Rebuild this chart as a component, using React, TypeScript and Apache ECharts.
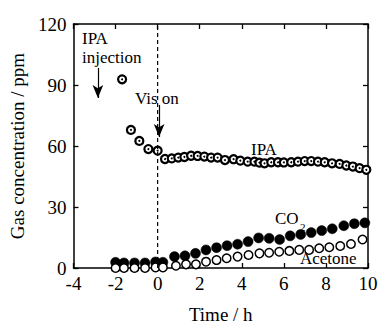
import React, { useEffect, useRef } from "react";
import * as echarts from "echarts";

const xTicks = { min: -4, max: 10, interval: 2 };
const yTicks = { min: 0, max: 120, interval: 30 };

const ipaX = [-1.69, -1.27, -0.87, -0.44, 0, 0.35, 0.67, 0.98, 1.27, 1.59, 1.9, 2.22, 2.54, 2.85, 3.2, 3.61, 3.93, 4.28, 4.6, 4.84, 5.08, 5.4, 5.72, 6.0, 6.35, 6.67, 6.99, 7.3, 7.62, 7.94, 8.29, 8.65, 8.97, 9.28, 9.6, 9.92];
const ipaY = [92.8, 67.9, 62.5, 58.5, 57.7, 53.6, 53.9, 54.3, 54.6, 55.2, 55.1, 54.8, 54.3, 54.3, 53.1, 53.5, 52.8, 52.3, 52.3, 51.8, 51.5, 52.0, 52.0, 51.9, 52.0, 52.3, 52.6, 52.6, 52.3, 52.0, 51.5, 51.2, 50.4, 49.9, 49.1, 48.3];

const co2X = [-2.0, -1.6, -1.1, -0.6, -0.1, 0.25, 0.8, 1.3, 1.8, 2.3, 2.8, 3.3, 3.8, 4.3, 4.8, 5.3, 5.8, 6.3, 6.8, 7.3, 7.8, 8.3, 8.85, 9.35, 9.85];
const co2Y = [2.8, 2.5, 2.5, 2.5, 3.0, 2.8, 5.6, 6.0, 7.2, 8.9, 10.0, 11.0, 11.7, 13.0, 14.8, 14.6, 14.0, 15.8, 16.5, 17.4, 18.4, 19.3, 20.8, 21.8, 22.2];

const acetoneX = [-2.0, -1.6, -1.1, -0.6, -0.1, 0.25, 0.87, 1.35, 1.82, 2.3, 2.8, 3.28, 3.8, 4.32, 4.84, 5.3, 5.78, 6.26, 6.73, 7.2, 7.68, 8.16, 8.68, 9.19, 9.74];
const acetoneY = [0, 0, 0, 0, 0.3, 0.3, 1.1, 1.8, 1.8, 3.1, 3.9, 4.8, 5.6, 6.4, 7.2, 7.5, 8.0, 8.4, 8.9, 8.9, 9.7, 10.2, 10.8, 11.8, 14.0];

// Vis-on time marker (dashed line) and annotation arrows, in data units
const visOnLine = [[0, 0], [0, 120]];
const injectionArrow = [[-2.84, 98.4], [-2.84, 83.6]];
const visOnArrow = [[0.07, 80.2], [0.07, 64.4]];

const zip = (xs: number[], ys: number[]) => xs.map((x, i) => [x, ys[i]]);

const FONT = "'Liberation Serif', 'DejaVu Serif', serif";

export default function App() {
  const ref = useRef<HTMLDivElement>(null);
  useEffect(() => {
    if (!ref.current) return;
    const chart = echarts.init(ref.current, null, { renderer: "svg" });
    const axisLine = { show: true, onZero: false, lineStyle: { color: "#000", width: 1.5 } };
    const tick = { show: true, inside: true, length: 5, lineStyle: { color: "#000", width: 1.3 } };
    const arrowPair = (pts: number[][]) => [
      { coord: pts[0], symbol: "none" },
      { coord: pts[1], symbol: "arrow", symbolSize: [8, 13] },
    ];
    chart.setOption({
      animation: false,
      backgroundColor: "#fff",
      grid: { left: 73.5, right: 17, top: 24, bottom: 67, outerBoundsMode: "none", containLabel: false },
      xAxis: [
        {
          type: "value", ...xTicks,
          name: "Time / h", nameLocation: "middle", nameGap: 37,
          nameTextStyle: { fontFamily: FONT, fontSize: 19, color: "#000" },
          axisLine, axisTick: tick, splitLine: { show: false },
          axisLabel: { fontFamily: FONT, fontSize: 19, color: "#000", margin: 6 },
        },
        {
          type: "value", ...xTicks, position: "top",
          axisLine, axisTick: tick, splitLine: { show: false }, axisLabel: { show: false },
        },
      ],
      yAxis: [
        {
          type: "value", ...yTicks,
          name: "Gas concentration / ppm", nameLocation: "middle", nameGap: 46, nameRotate: 90,
          nameTextStyle: { fontFamily: FONT, fontSize: 19, color: "#000" },
          axisLine, axisTick: tick, splitLine: { show: false },
          axisLabel: { fontFamily: FONT, fontSize: 19, color: "#000", margin: 7 },
        },
        {
          type: "value", ...yTicks, position: "right",
          axisLine, axisTick: tick, splitLine: { show: false }, axisLabel: { show: false },
        },
      ],
      series: [
        {
          type: "line", name: "visOn", data: visOnLine, symbol: "none", silent: true,
          lineStyle: { type: [4, 3], color: "#000", width: 1.2 },
          markLine: {
            silent: true, animation: false,
            label: { show: false },
            lineStyle: { type: "solid", color: "#000", width: 1.2 },
            itemStyle: { color: "#000" },
            data: [arrowPair(injectionArrow), arrowPair(visOnArrow)],
          },
        },
        {
          type: "scatter", name: "CO2", data: zip(co2X, co2Y), symbol: "circle", symbolSize: 10,
          itemStyle: { color: "#000", borderColor: "#000", borderWidth: 0.5, opacity: 1 },
        },
        {
          type: "scatter", name: "Acetone", data: zip(acetoneX, acetoneY), symbol: "circle", symbolSize: 8.5,
          itemStyle: { color: "#fff", borderColor: "#000", borderWidth: 1.5, opacity: 1 },
        },
        {
          type: "scatter", name: "IPA", data: zip(ipaX, ipaY), symbol: "circle", symbolSize: 8,
          itemStyle: { color: "#fff", borderColor: "#000", borderWidth: 2.2, opacity: 1 },
        },
        {
          type: "scatter", name: "IPA-core", data: zip(ipaX, ipaY), symbol: "circle", symbolSize: 2,
          itemStyle: { color: "#000", opacity: 1 }, silent: true,
        },
      ],
      graphic: [
        { type: "text", left: 82, top: 30, z: 100, style: { text: "IPA", font: `17px ${FONT}`, lineHeight: 17, fill: "#000" } },
        { type: "text", left: 82, top: 49, z: 100, style: { text: "injection", font: `17px ${FONT}`, lineHeight: 17, fill: "#000" } },
        { type: "text", left: 135, top: 90, z: 100, style: { text: "Vis on", font: `17px ${FONT}`, fill: "#000" } },
        { type: "text", left: 251, top: 141, z: 100, style: { text: "IPA", font: `17px ${FONT}`, fill: "#000" } },
        { type: "text", left: 275, top: 210, z: 100, style: { text: "CO", font: `17px ${FONT}`, fill: "#000" } },
        { type: "text", left: 300, top: 221, z: 100, style: { text: "2", font: `11px ${FONT}`, fill: "#000" } },
        { type: "text", left: 300, top: 250, z: 100, style: { text: "Acetone", font: `17px ${FONT}`, fill: "#000" } },
      ],
    });
    return () => chart.dispose();
  }, []);
  return <div ref={ref} style={{ position: "fixed", left: 0, top: 0, width: 385, height: 335 }} />;
}
